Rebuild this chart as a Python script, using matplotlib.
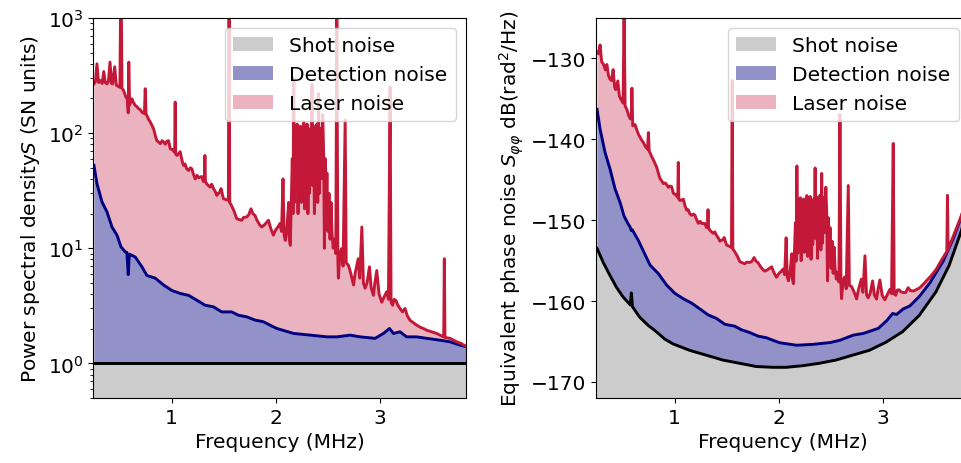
import numpy as np
import matplotlib
matplotlib.use('Agg')
import matplotlib.pyplot as plt

# laser noise, shot-noise units
laser_f = [0.256, 0.27, 0.285, 0.30, 0.318, 0.335, 0.35, 0.365, 0.38, 0.395, 0.41, 0.425,
           0.435, 0.455, 0.47, 0.477, 0.505, 0.515, 0.525, 0.54, 0.563, 0.575, 0.585, 0.59,
           0.598, 0.62, 0.635, 0.652, 0.668, 0.684, 0.70, 0.716, 0.74, 0.748, 0.756, 0.764,
           0.78, 0.796, 0.81, 0.828, 0.845, 0.859, 0.875, 0.892, 0.91, 0.923, 0.94, 0.955,
           0.971, 0.988, 1.01, 1.03, 1.035, 1.04, 1.051, 1.065, 1.083, 1.10, 1.115, 1.13,
           1.145, 1.163, 1.18, 1.195, 1.21, 1.227, 1.245, 1.26, 1.275, 1.29, 1.305, 1.315,
           1.32, 1.325, 1.34, 1.354, 1.37, 1.385, 1.402, 1.42, 1.434, 1.45, 1.465, 1.475,
           1.485, 1.498, 1.52, 1.545, 1.552, 1.558, 1.577, 1.60, 1.625, 1.645, 1.673, 1.69,
           1.72, 1.74, 1.762, 1.78, 1.80, 1.82, 1.845, 1.864, 1.885, 1.905, 1.93, 1.95,
           1.976, 2.00, 2.02, 2.04, 2.055, 2.069, 2.08, 2.091, 2.105, 2.123, 2.13, 2.139,
           2.15, 2.158, 2.165, 2.172, 2.18, 2.187, 2.195, 2.205, 2.213, 2.22, 2.228, 2.236,
           2.244, 2.252, 2.26, 2.268, 2.276, 2.284, 2.292, 2.30, 2.308, 2.316, 2.324, 2.332,
           2.34, 2.347, 2.354, 2.362, 2.37, 2.378, 2.386, 2.394, 2.402, 2.41, 2.418, 2.426,
           2.434, 2.442, 2.45, 2.458, 2.466, 2.474, 2.482, 2.49, 2.50, 2.51, 2.52, 2.53,
           2.538, 2.55, 2.565, 2.575, 2.585, 2.595, 2.60, 2.615, 2.63, 2.645, 2.665, 2.675,
           2.697, 2.72, 2.745, 2.76, 2.775, 2.79, 2.805, 2.825, 2.84, 2.856, 2.875, 2.898,
           2.915, 2.936, 2.95, 2.968, 2.99, 3.016, 3.04, 3.064, 3.08, 3.096, 3.105, 3.12,
           3.135, 3.153, 3.17, 3.191, 3.215, 3.239, 3.26, 3.287, 3.32, 3.35, 3.39, 3.42,
           3.447, 3.48, 3.51, 3.543, 3.58, 3.61, 3.616, 3.622, 3.67, 3.70, 3.734, 3.77,
           3.804, 3.82]
laser_sn = [268, 280, 400, 275, 286, 270, 343, 275, 268, 280, 414, 270,
            268, 377, 262, 259, 250, 3000, 245, 235, 205, 200, 150, 414,
            175, 199, 185, 174, 170, 163, 160, 152, 148, 243, 145, 142,
            132, 125, 118, 109, 95, 86, 84, 81, 86, 84, 80, 85,
            86, 73, 72, 68, 186, 66, 64, 66, 69, 58, 52.5, 54,
            49, 47.5, 50, 49, 44, 40, 43, 41, 41.6, 42, 38, 40,
            64, 38, 36, 35, 34, 36, 33, 31, 28.8, 30, 31, 33,
            30, 27, 26.5, 26, 3000, 25, 23.3, 21, 18.1, 17.8, 17.5, 18.5,
            18.7, 19.5, 22, 20, 19.3, 17.5, 16, 15.3, 15.8, 16.5, 17.5, 15,
            13, 14.5, 15.3, 16.4, 14, 40, 13, 11.7, 14, 25, 12, 10.6,
            30, 60, 20, 300, 25, 110, 40, 120, 20, 90, 30, 115,
            25, 100, 40, 125, 22, 95, 35, 120, 20, 80, 30, 110,
            45, 265, 35, 115, 20, 100, 35, 120, 25, 220, 30, 110,
            40, 80, 145, 70, 10, 60, 20, 45, 14, 30, 12, 25,
            14, 10, 12, 9, 1050, 8, 5.5, 9, 9.9, 7, 130, 7.5,
            7.1, 6, 4.8, 6, 7, 8.1, 5.5, 15.3, 5, 4.5, 5, 6.9,
            4.5, 3.9, 5, 6.4, 4, 3.4, 3.8, 4.2, 3.6, 252, 3.4, 3.2,
            3.6, 3.5, 3.2, 3.0, 2.8, 3.0, 2.6, 2.37, 2.25, 2.15, 2.05, 2.0,
            1.94, 1.9, 1.86, 1.82, 1.75, 1.7, 8.1, 1.68, 1.65, 1.6, 1.54, 1.5,
            1.44, 1.42]

# detection noise, shot-noise units
det_f = [0.256, 0.285, 0.333, 0.381, 0.429, 0.477, 0.515, 0.557, 0.572, 0.585, 0.595,
         0.605, 0.652, 0.716, 0.764, 0.844, 0.923, 1.003, 1.083, 1.163, 1.242, 1.322,
         1.402, 1.481, 1.577, 1.641, 1.72, 1.80, 1.88, 1.976, 2.01, 2.17, 2.33, 2.49,
         2.586, 2.713, 2.809, 2.952, 3.032, 3.09, 3.128, 3.191, 3.255, 3.35, 3.447,
         3.574, 3.67, 3.766, 3.82]
det_sn = [52.5, 36.4, 25.3, 20.7, 15.3, 13, 10.3, 9.3, 9.2, 5.9, 8.9,
          8.8, 8.4, 6.9, 5.8, 5.5, 4.8, 4.3, 4.05, 3.9, 3.54, 3.2,
          3.1, 2.8, 2.8, 2.62, 2.54, 2.38, 2.3, 2.08, 2.01, 1.82, 1.76, 1.70,
          1.70, 1.76, 1.70, 1.65, 1.82, 2.01, 1.82, 1.88, 1.70, 1.70, 1.65,
          1.59, 1.54, 1.44, 1.40]

# shot noise level in dB(rad^2/Hz)
shot_f = [0.25, 0.256, 0.314, 0.378, 0.442, 0.505, 0.563, 0.575, 0.585, 0.595, 0.665,
          0.745, 0.825, 0.904, 0.984, 1.144, 1.303, 1.462, 1.622, 1.782, 1.941, 2.069,
          2.228, 2.388, 2.547, 2.706, 2.866, 3.026, 3.185, 3.344, 3.504, 3.632, 3.744, 3.82]
shot_db = [-153.4, -153.5, -155.2, -156.8, -158.3, -159.5, -160.3, -160.5, -159.0, -160.7,
           -162.0, -163.0, -163.8, -164.7, -165.3, -166.1, -166.7, -167.3, -167.7, -168.1,
           -168.2, -168.2, -168.0, -167.7, -167.3, -166.7, -166.1, -165.1, -163.8, -161.8,
           -158.9, -155.6, -151.5, -148.3]

laser_f = np.array(laser_f)
laser_sn = np.array(laser_sn)
det_f = np.array(det_f)
det_sn = np.array(det_sn)
shot_f = np.array(shot_f)
shot_db = np.array(shot_db)

# convert SN units to phase noise using the shot noise level
laser_db = np.interp(laser_f, shot_f, shot_db) + 10 * np.log10(laser_sn)
det_db = np.interp(det_f, shot_f, shot_db) + 10 * np.log10(det_sn)

c_laser = '#c41838'
c_laser_fill = '#eab3bf'
c_det = '#000080'
c_det_fill = '#9292c8'
c_shot_fill = '#cccccc'
fs = 14.5
lw = 2.1

fig = plt.figure(figsize=(9.62, 4.64), dpi=100)
ax1 = fig.add_axes([0.097, 0.14, 0.387, 0.819])
ax2 = fig.add_axes([0.620, 0.14, 0.387, 0.819])

# left panel
ax1.fill_between(shot_f, 0.1, 1, color=c_shot_fill, lw=0, label='Shot noise')
ax1.fill_between(det_f, 1, det_sn, color=c_det_fill, lw=0, label='Detection noise')
ax1.fill_between(laser_f, 1, laser_sn, color=c_laser_fill, lw=0, label='Laser noise', zorder=0.5)
ax1.plot(det_f, det_sn, color=c_det, lw=lw)
ax1.plot(shot_f, np.ones(len(shot_f)), color='k', lw=lw)
ax1.plot(laser_f, laser_sn, color=c_laser, lw=lw)
ax1.set_yscale('log')
ax1.set_ylim(0.5, 1000)
ax1.set_xlim(0.25, 3.82)
ax1.set_xticks([1, 2, 3])
ax1.set_xlabel('Frequency (MHz)', fontsize=fs)
ax1.set_ylabel('Power spectral density$S$ (SN units)', fontsize=fs)
ax1.tick_params(labelsize=fs)
ax1.legend(loc='upper right', fontsize=fs)

# right panel
ax2.fill_between(shot_f, -180, shot_db, color=c_shot_fill, lw=0, label='Shot noise')
ax2.fill_between(det_f, np.interp(det_f, shot_f, shot_db), det_db, color=c_det_fill, lw=0,
                 label='Detection noise')
ax2.fill_between(laser_f, -180, laser_db, color=c_laser_fill, lw=0, label='Laser noise', zorder=0.5)
ax2.plot(shot_f, shot_db, color='k', lw=lw)
ax2.plot(det_f, det_db, color=c_det, lw=lw)
ax2.plot(laser_f, laser_db, color=c_laser, lw=lw)
ax2.set_ylim(-172, -125)
ax2.set_xlim(0.25, 3.82)
ax2.set_xticks([1, 2, 3])
ax2.set_yticks([-170, -160, -150, -140, -130])
ax2.set_xlabel('Frequency (MHz)', fontsize=fs)
ax2.set_ylabel('Equivalent phase noise $S_{\\varphi\\varphi}$ dB(rad$^2$/Hz)', fontsize=fs)
ax2.tick_params(labelsize=fs)
ax2.legend(loc='upper right', fontsize=fs)

fig.savefig('out.png', dpi=100)
